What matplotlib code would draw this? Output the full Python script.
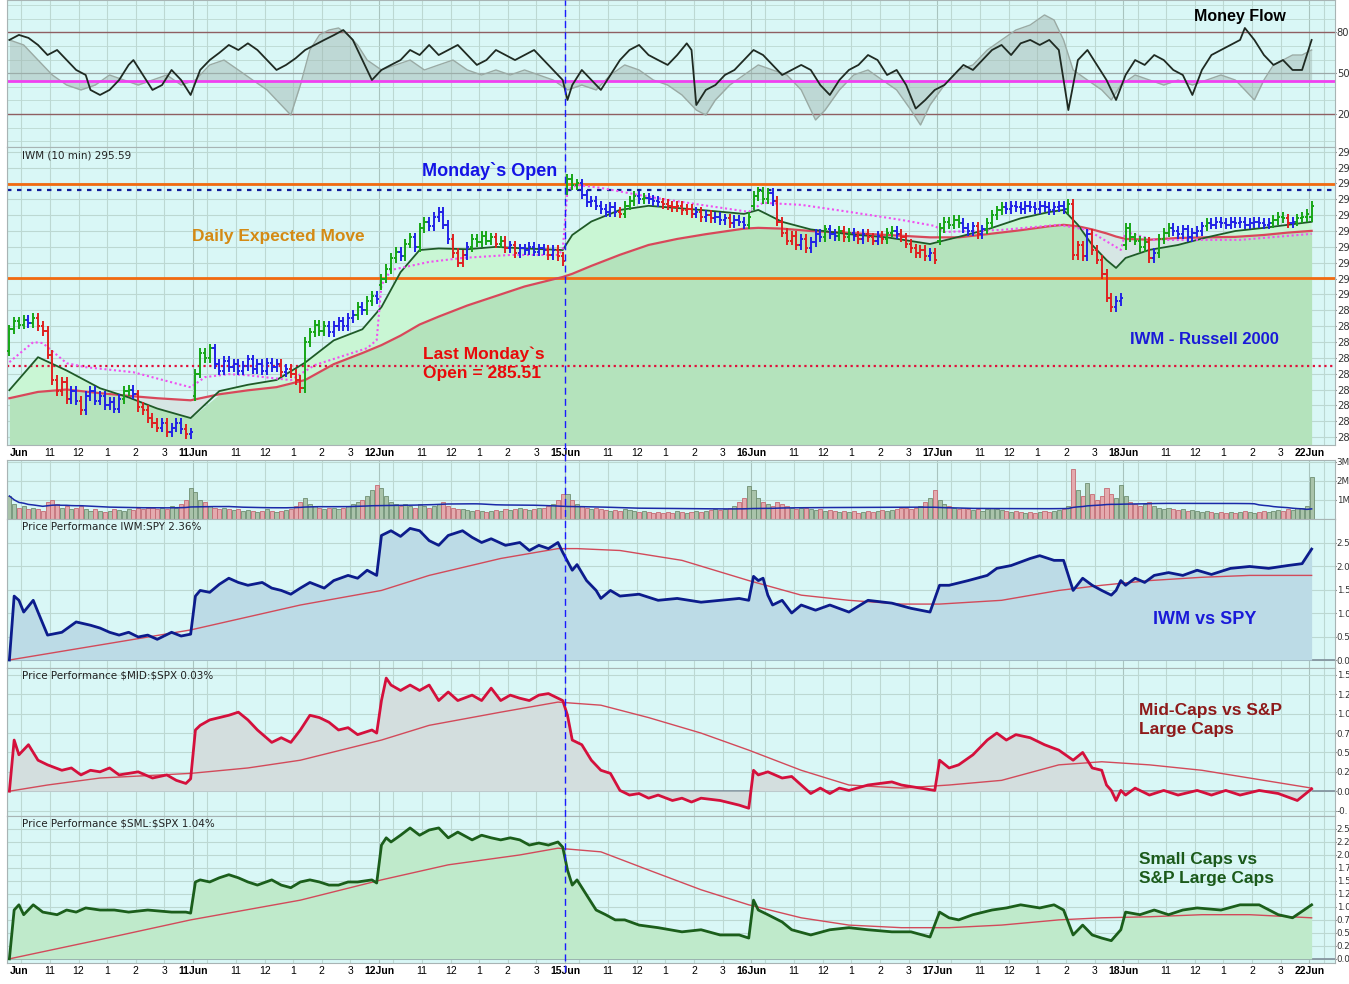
import numpy as np
import pandas as pd
import matplotlib
matplotlib.use("Agg")
import matplotlib.pyplot as plt
from matplotlib.lines import Line2D

W, H = 1349, 984
BG = '#d9f7f6'
GRID = '#bcd8d2'

# ---------------- data ----------------
days = ['Jun', '11Jun', '12Jun', '15Jun', '16Jun', '17Jun', '18Jun', '22Jun']
hours = ['11', '12', '1', '2', '3']

day_opens = [286.4, 283.6, 290.6, 296.6, 295.6, 293.4, 293.1, 294.9]
c_10jun = [287.8, 288.3, 288.1, 288.4, 288.2, 288.5, 288.0, 287.7, 286.2, 284.6,
           283.9, 284.5, 283.4, 283.9, 283.3, 282.7, 283.6, 283.9, 283.3, 283.6,
           283.0, 283.2, 282.8, 283.4, 283.9, 284.0, 283.7, 282.9, 282.7, 282.2,
           281.9, 281.6, 281.9, 281.3, 281.6, 281.9, 281.5, 281.2, 281.3]
c_11jun = [285.0, 286.3, 286.0, 286.6, 285.6, 285.2, 285.8, 285.4, 285.6, 285.2,
           285.5, 285.9, 285.3, 285.6, 285.2, 285.7, 285.4, 285.6, 285.1, 285.3,
           285.0, 284.6, 284.1, 287.0, 287.6, 288.1, 287.7, 288.0, 287.6, 288.0,
           288.3, 288.0, 288.5, 288.7, 289.2, 289.0, 289.6, 289.9, 289.7]
c_12jun = [291.0, 291.6, 292.3, 292.7, 292.4, 293.2, 293.6, 293.0, 294.2, 294.6,
           294.3, 294.9, 295.2, 294.4, 293.5, 292.6, 292.0, 292.5, 293.0, 293.5,
           293.3, 293.7, 293.4, 293.6, 293.2, 293.4, 292.9, 293.1, 292.6, 292.9,
           292.8, 293.0, 292.7, 292.9, 292.8, 292.5, 292.8, 292.4, 292.1]
c_15jun = [297.3, 296.9, 297.0, 296.3, 295.8, 295.9, 295.6, 295.4, 295.2, 295.5,
           295.2, 295.1, 295.6, 295.9, 296.2, 296.0, 296.1, 296.0, 295.9, 295.8,
           295.7, 295.6, 295.5, 295.6, 295.3, 295.4, 295.1, 295.2, 294.9, 295.0,
           294.8, 294.9, 294.7, 294.8, 294.5, 294.7, 294.6, 294.4, 294.9]
c_16jun = [296.2, 296.5, 296.0, 296.4, 295.9, 294.6, 293.9, 293.4, 293.7, 293.1,
           293.5, 292.9, 293.3, 293.8, 293.6, 294.1, 293.8, 293.7, 294.0, 293.6,
           293.9, 293.7, 293.5, 293.8, 293.6, 293.4, 293.7, 293.5, 293.9, 294.0,
           293.8, 293.6, 293.2, 292.9, 292.6, 292.8, 292.4, 292.6, 292.2]
c_17jun = [294.2, 294.6, 294.4, 294.7, 294.5, 294.2, 294.0, 294.3, 293.8, 294.1,
           294.5, 295.0, 295.3, 295.5, 295.4, 295.6, 295.5, 295.4, 295.6, 295.5,
           295.4, 295.6, 295.5, 295.3, 295.5, 295.6, 295.4, 295.7, 292.5, 293.1,
           292.4, 293.8, 292.8, 292.2, 291.3, 289.8, 289.2, 289.6, 289.8]
c_18jun = [294.2, 293.6, 293.4, 293.0, 293.3, 292.3, 292.6, 293.5, 293.9, 294.2,
           294.0, 293.8, 294.1, 293.6, 293.9, 294.0, 294.3, 294.5, 294.4, 294.6,
           294.5, 294.4, 294.6, 294.5, 294.6, 294.4, 294.5, 294.6, 294.5, 294.4,
           294.5, 294.7, 294.9, 294.8, 294.5, 294.6, 294.8, 294.9, 295.1]
c_22jun = [295.59]

v_10jun = [1.2, 0.8, 0.6, 0.7, 0.5, 0.6, 0.5, 0.4, 0.9, 1.0, 0.8, 0.6, 0.7, 0.5, 0.6, 0.7, 0.5, 0.4, 0.5, 0.4,
           0.35, 0.4, 0.5, 0.45, 0.4, 0.5, 0.45, 0.6, 0.5, 0.6, 0.55, 0.5, 0.6, 0.5, 0.7, 0.6, 0.8, 1.0, 1.6]
v_11jun = [1.4, 1.0, 0.9, 0.7, 0.6, 0.5, 0.6, 0.5, 0.45, 0.5, 0.4, 0.45, 0.4, 0.35, 0.4, 0.5, 0.4, 0.35, 0.4, 0.45,
           0.5, 0.7, 0.9, 1.1, 0.8, 0.7, 0.6, 0.5, 0.55, 0.6, 0.5, 0.6, 0.7, 0.8, 0.9, 1.0, 1.2, 1.5, 1.8]
v_12jun = [1.6, 1.2, 0.9, 0.8, 0.7, 0.8, 0.7, 0.6, 0.8, 0.7, 0.6, 0.7, 0.8, 0.9, 0.7, 0.6, 0.5, 0.5, 0.45, 0.4,
           0.45, 0.4, 0.35, 0.4, 0.45, 0.4, 0.5, 0.45, 0.5, 0.55, 0.5, 0.45, 0.5, 0.6, 0.55, 0.7, 0.8, 1.0, 1.3]
v_15jun = [1.3, 1.0, 0.8, 0.7, 0.6, 0.5, 0.55, 0.5, 0.45, 0.4, 0.45, 0.4, 0.5, 0.45, 0.4, 0.35, 0.4, 0.35, 0.3, 0.35,
           0.3, 0.35, 0.3, 0.4, 0.35, 0.3, 0.35, 0.4, 0.35, 0.4, 0.45, 0.5, 0.45, 0.5, 0.6, 0.7, 0.9, 1.1, 1.7]
v_16jun = [1.5, 1.1, 0.9, 0.8, 0.7, 0.9, 0.8, 0.7, 0.6, 0.5, 0.55, 0.6, 0.5, 0.45, 0.5, 0.4, 0.45, 0.4, 0.35, 0.4,
           0.35, 0.4, 0.3, 0.35, 0.4, 0.35, 0.4, 0.45, 0.4, 0.45, 0.5, 0.55, 0.6, 0.5, 0.6, 0.7, 0.9, 1.1, 1.5]
v_17jun = [1.0, 0.8, 0.7, 0.6, 0.5, 0.55, 0.5, 0.45, 0.5, 0.4, 0.5, 0.6, 0.5, 0.45, 0.4, 0.35, 0.4, 0.35, 0.3, 0.35,
           0.3, 0.35, 0.4, 0.35, 0.4, 0.45, 0.5, 0.7, 2.6, 1.5, 1.2, 1.9, 1.3, 1.0, 1.2, 1.6, 1.3, 1.1, 1.8]
v_18jun = [1.2, 0.9, 0.8, 0.7, 0.8, 0.9, 0.7, 0.6, 0.5, 0.55, 0.5, 0.45, 0.5, 0.4, 0.45, 0.4, 0.35, 0.4, 0.35, 0.3,
           0.35, 0.3, 0.35, 0.3, 0.35, 0.4, 0.35, 0.3, 0.35, 0.4, 0.35, 0.4, 0.45, 0.4, 0.5, 0.45, 0.55, 0.6, 0.7]
v_22jun = [2.2]

# overlay averages on the price panel (bar index, price)
ma_bars = [0, 6, 12, 19, 25, 31, 38, 44, 50, 56, 62, 68, 74, 78, 82, 86, 90, 96, 102, 108, 116, 118, 122,
           128, 134, 140, 146, 154, 157, 162, 168, 176, 184, 193, 199, 205, 212, 218, 221, 224, 227, 230,
           232, 234, 239, 245, 251, 257, 263, 268, 273]
ema_fast = [283.96, 286.04, 285.2, 284.08, 283.5, 282.8, 282.2, 283.9, 284.3, 284.6, 285.7, 287.1, 287.8,
            289.2, 291.4, 292.8, 292.9, 292.85, 293.0, 292.9, 292.8, 293.75, 294.6, 295.33, 295.59, 295.45,
            295.3, 295.08, 295.33, 294.58, 294.1, 293.8, 293.6, 293.18, 293.63, 294.1, 294.8, 295.2, 295.33,
            294.39, 293.12, 292.17, 291.67, 292.3, 292.81, 293.12, 293.6, 294.0, 294.2, 294.39, 294.58]
sma_slow = [283.45, 283.85, 284.0, 283.77, 283.6, 283.45, 283.32, 283.7, 283.95, 284.15, 284.6, 285.6,
            286.3, 286.8, 287.4, 288.1, 288.6, 289.3, 289.9, 290.5, 291.1, 291.3, 291.8, 292.5, 293.12, 293.5,
            293.8, 294.15, 294.2, 294.15, 294.0, 293.88, 293.75, 293.6, 293.6, 293.8, 294.05, 294.3, 294.39,
            294.3, 294.1, 293.85, 293.65, 293.5, 293.45, 293.56, 293.6, 293.63, 293.75, 293.9, 294.01]
pink_bars = [0, 5, 7, 12, 16, 26, 38, 41, 46, 50, 59, 64, 75, 77, 78, 80, 88, 95, 105, 115, 116, 117, 119,
             124, 134, 145, 155, 158, 166, 176, 187, 194, 196, 208, 220, 226, 233, 234, 240, 258, 273]
pink_line = [285.73, 286.99, 286.93, 285.66, 285.41, 285.09, 284.14, 284.78, 284.97, 284.9, 284.59, 285.54,
             286.61, 287.12, 290.59, 291.54, 292.05, 292.3, 292.49, 292.49, 292.81, 296.6, 296.91, 296.72,
             296.16, 295.65, 295.21, 295.78, 295.65, 295.21, 294.7, 294.32, 293.94, 294.07, 294.39, 294.07,
             292.81, 293.94, 293.44, 293.44, 293.82]

upper_move, lower_move = 296.95, 291.05
monday_open, last_monday_open = 296.6, 285.51

# money flow (bar index, value)
mf_bars = [0, 2, 4, 6, 8, 10, 12, 14, 16, 17, 19, 21, 23, 25, 26, 28, 30, 32, 34, 36, 38, 40, 42, 44, 46,
           48, 50, 52, 54, 56, 58, 60, 62, 64, 66, 68, 70, 72, 74, 76, 78, 80, 82, 84, 86, 88, 90, 92, 94,
           96, 98, 100, 102, 104, 106, 108, 110, 112, 114, 116, 117, 118, 120, 122, 124, 126, 128, 130, 132,
           134, 136, 138, 140, 142, 143, 144, 146, 148, 150, 152, 154, 156, 158, 160, 162, 164, 166, 168,
           170, 172, 174, 176, 178, 180, 182, 184, 186, 188, 190, 192, 194, 196, 198, 200, 202, 204, 206,
           208, 210, 212, 214, 216, 218, 220, 222, 224, 226, 228, 230, 232, 234, 236, 238, 240, 242, 244,
           246, 248, 250, 252, 254, 256, 258, 259, 261, 263, 265, 267, 269, 271, 272, 273]
mf_line = [74.5, 78.2, 76.0, 70.8, 63.4, 67.1, 59.7, 52.4, 48.7, 37.7, 34.0, 37.7, 45.0, 56.1, 59.7, 48.7,
           37.7, 41.3, 52.4, 45.0, 34.0, 52.4, 59.7, 65.0, 70.8, 67.1, 72.0, 67.1, 59.7, 52.4, 56.1, 61.0,
           67.1, 70.8, 74.5, 78.0, 81.8, 74.5, 59.7, 45.0, 52.4, 56.1, 59.7, 67.1, 63.4, 70.8, 63.4, 67.1,
           70.8, 63.4, 56.1, 59.7, 67.1, 63.4, 59.7, 63.4, 67.1, 59.7, 52.4, 45.0, 30.3, 41.3, 52.4, 45.0,
           37.7, 48.7, 59.7, 67.1, 70.8, 63.4, 59.7, 56.1, 63.4, 72.0, 67.1, 26.6, 37.7, 41.3, 48.7, 52.4,
           59.7, 67.1, 63.4, 56.1, 48.7, 52.4, 56.1, 52.4, 41.3, 34.0, 45.0, 52.4, 56.1, 63.4, 59.7, 48.7,
           52.4, 41.3, 24.0, 30.3, 37.7, 41.3, 48.7, 56.1, 52.4, 59.7, 67.1, 70.8, 63.4, 72.0, 74.5, 70.8,
           74.5, 67.1, 22.9, 59.7, 67.1, 56.1, 45.0, 30.3, 48.7, 59.7, 56.1, 63.4, 59.7, 52.4, 48.7, 34.0,
           52.4, 63.4, 67.1, 70.8, 74.5, 83.3, 74.5, 63.4, 56.1, 59.7, 52.4, 52.4, 63.4, 74.5]
mf2_bars = [0, 3, 6, 9, 12, 15, 18, 21, 24, 27, 30, 33, 36, 39, 42, 45, 48, 51, 54, 57, 59, 61, 63, 65, 67,
            69, 71, 73, 75, 78, 81, 84, 87, 90, 93, 96, 99, 102, 105, 108, 111, 114, 117, 120, 123, 126, 129,
            132, 135, 138, 141, 144, 146, 148, 151, 154, 157, 160, 163, 166, 169, 171, 174, 177, 180, 183,
            186, 189, 191, 193, 196, 199, 202, 205, 208, 211, 214, 217, 219, 221, 223, 226, 229, 231, 233,
            236, 239, 242, 245, 248, 251, 254, 257, 259, 261, 263, 265, 267, 269, 271, 273]
mf2_line = [74.5, 70.8, 59.7, 48.7, 41.3, 37.7, 41.3, 48.7, 45.0, 41.3, 45.0, 48.7, 41.3, 45.0, 56.1, 59.7,
            52.4, 45.0, 37.7, 26.6, 19.2, 41.3, 67.1, 78.2, 81.8, 83.3, 78.2, 70.8, 59.7, 52.4, 56.1, 59.7,
            52.4, 56.1, 59.7, 52.4, 48.7, 52.4, 48.7, 52.4, 48.7, 45.0, 37.7, 41.3, 37.7, 48.7, 56.1, 52.4,
            45.0, 41.3, 34.0, 22.9, 19.2, 30.3, 41.3, 48.7, 56.1, 52.4, 48.7, 37.7, 15.6, 22.9, 37.7, 48.7,
            52.4, 45.0, 37.7, 22.9, 11.9, 26.6, 41.3, 52.4, 56.1, 67.1, 74.5, 81.8, 85.5, 92.9, 89.2, 74.5,
            52.4, 45.0, 37.7, 30.3, 41.3, 48.7, 45.0, 41.3, 45.0, 41.3, 45.0, 48.7, 45.0, 37.7, 30.3, 45.0,
            56.1, 59.7, 63.4, 63.4, 67.1]
mf_signal = 44.0

# price performance panels (bar index, %)
iwm_bars = [0, 1, 2, 3, 5, 6, 8, 11, 14, 17, 19, 21, 23, 25, 27, 29, 31, 34, 36, 38, 39, 40, 42, 44, 46,
            48, 50, 53, 55, 57, 59, 61, 63, 66, 68, 71, 73, 75, 77, 78, 80, 82, 84, 86, 88, 90, 92, 95, 97,
            99, 101, 104, 107, 109, 111, 113, 115, 116, 117, 118, 119, 121, 123, 124, 126, 128, 132, 136, 140,
            145, 149, 153, 155, 156, 157, 158, 159, 160, 162, 164, 166, 169, 172, 176, 180, 185, 189, 193,
            195, 197, 201, 205, 207, 210, 214, 216, 219, 221, 223, 225, 227, 229, 231, 232, 233, 234, 236,
            238, 240, 243, 246, 249, 252, 256, 260, 264, 268, 271, 273]
iwm_spy = [0.0, 1.36, 1.27, 1.02, 1.27, 1.02, 0.53, 0.59, 0.81, 0.74, 0.68, 0.59, 0.53, 0.59, 0.49, 0.53,
           0.44, 0.59, 0.51, 0.55, 1.36, 1.48, 1.44, 1.61, 1.74, 1.65, 1.59, 1.65, 1.53, 1.48, 1.40, 1.53,
           1.65, 1.53, 1.69, 1.80, 1.74, 1.91, 1.80, 2.65, 2.75, 2.63, 2.80, 2.75, 2.54, 2.44, 2.65, 2.75,
           2.61, 2.50, 2.58, 2.44, 2.50, 2.33, 2.44, 2.37, 2.50, 2.29, 2.10, 1.91, 2.03, 1.69, 1.48, 1.31,
           1.48, 1.36, 1.40, 1.27, 1.31, 1.23, 1.27, 1.31, 1.27, 1.78, 1.69, 1.74, 1.38, 1.17, 1.27, 1.00,
           1.17, 1.06, 1.17, 1.02, 1.27, 1.21, 1.10, 1.02, 1.59, 1.59, 1.69, 1.80, 1.95, 2.01, 2.16, 2.22,
           2.12, 2.12, 1.48, 1.74, 1.59, 1.48, 1.38, 1.48, 1.69, 1.59, 1.74, 1.65, 1.80, 1.86, 1.80, 1.91,
           1.82, 1.95, 1.99, 1.95, 2.01, 2.05, 2.36]
iwm_ma_bars = [0, 19, 38, 61, 78, 88, 103, 115, 119, 128, 141, 155, 166, 176, 187, 195, 208, 220, 229, 239,
               250, 260, 273]
iwm_ma = [0.0, 0.32, 0.64, 1.17, 1.48, 1.80, 2.16, 2.37, 2.37, 2.33, 2.12, 1.69, 1.38, 1.27, 1.19, 1.19,
          1.27, 1.48, 1.59, 1.69, 1.76, 1.80, 1.80]

mid_bars = [0, 1, 2, 4, 6, 8, 11, 13, 15, 17, 19, 21, 23, 25, 27, 30, 33, 35, 37, 38, 39, 40, 42, 44, 46,
            48, 50, 52, 55, 57, 59, 61, 63, 65, 67, 69, 71, 73, 76, 77, 78, 79, 80, 82, 84, 86, 88, 90, 92,
            94, 97, 99, 101, 103, 105, 107, 109, 111, 113, 116, 117, 118, 120, 122, 124, 126, 128, 130, 132,
            134, 136, 139, 141, 143, 145, 149, 153, 155, 156, 157, 159, 162, 164, 166, 168, 170, 172, 174,
            176, 180, 185, 187, 191, 194, 195, 197, 199, 202, 205, 207, 209, 211, 214, 217, 220, 223, 225,
            227, 229, 230, 231, 232, 233, 234, 236, 239, 242, 245, 249, 252, 255, 258, 262, 266, 270, 273]
mid_spx = [0.0, 0.66, 0.47, 0.60, 0.40, 0.34, 0.27, 0.30, 0.21, 0.27, 0.25, 0.30, 0.21, 0.23, 0.25, 0.17,
           0.21, 0.14, 0.10, 0.16, 0.79, 0.85, 0.92, 0.95, 0.98, 1.02, 0.92, 0.79, 0.63, 0.69, 0.63, 0.79,
           0.98, 0.95, 0.89, 0.79, 0.82, 0.73, 0.79, 0.75, 1.17, 1.46, 1.37, 1.30, 1.37, 1.30, 1.37, 1.17,
           1.28, 1.17, 1.24, 1.17, 1.33, 1.17, 1.24, 1.20, 1.17, 1.24, 1.26, 1.17, 0.98, 0.66, 0.60, 0.40,
           0.27, 0.23, 0.01, -0.05, -0.03, -0.09, -0.05, -0.12, -0.09, -0.14, -0.09, -0.12, -0.18, -0.22,
           0.27, 0.21, 0.25, 0.17, 0.19, 0.08, -0.03, 0.04, -0.03, 0.04, 0.01, 0.08, 0.12, 0.08, 0.04, 0.01,
           0.40, 0.30, 0.34, 0.47, 0.66, 0.75, 0.66, 0.73, 0.69, 0.60, 0.53, 0.40, 0.50, 0.30, 0.27, 0.08,
           0.01, -0.12, 0.01, -0.05, 0.04, -0.05, 0.01, -0.05, 0.01, -0.05, 0.01, -0.05, 0.01, -0.03, -0.12,
           0.03]
mid_ma_bars = [0, 8, 19, 38, 50, 61, 78, 88, 103, 115, 124, 134, 145, 155, 166, 176, 187, 197, 208, 220,
               229, 239, 250, 260, 273]
mid_ma = [0.0, 0.08, 0.17, 0.23, 0.30, 0.40, 0.66, 0.85, 1.02, 1.15, 1.11, 0.95, 0.75, 0.53, 0.27, 0.08,
          0.04, 0.08, 0.14, 0.34, 0.38, 0.34, 0.27, 0.17, 0.04]

sml_bars = [0, 1, 2, 3, 5, 7, 10, 12, 14, 16, 19, 22, 25, 29, 34, 37, 38, 39, 40, 42, 44, 46, 48, 50, 52,
            55, 57, 59, 61, 63, 65, 67, 69, 71, 73, 76, 77, 78, 79, 80, 82, 84, 86, 88, 90, 92, 94, 97, 99,
            101, 103, 105, 107, 109, 111, 113, 115, 116, 117, 118, 119, 121, 123, 125, 127, 129, 132, 136,
            141, 145, 149, 153, 155, 156, 157, 159, 162, 164, 168, 172, 176, 180, 185, 189, 193, 195, 197,
            199, 202, 206, 209, 212, 216, 219, 221, 223, 225, 227, 229, 231, 233, 234, 237, 240, 243, 246,
            249, 254, 258, 262, 266, 269, 273]
sml_spx = [0.0, 0.94, 1.04, 0.85, 1.04, 0.90, 0.85, 0.94, 0.90, 0.98, 0.94, 0.94, 0.90, 0.94, 0.90, 0.90,
           0.88, 1.48, 1.52, 1.48, 1.56, 1.62, 1.56, 1.48, 1.42, 1.52, 1.42, 1.37, 1.48, 1.52, 1.48, 1.42,
           1.42, 1.48, 1.48, 1.52, 1.46, 2.19, 2.33, 2.25, 2.38, 2.52, 2.38, 2.48, 2.52, 2.33, 2.44, 2.29,
           2.38, 2.33, 2.29, 2.33, 2.29, 2.19, 2.23, 2.19, 2.25, 2.15, 1.71, 1.42, 1.52, 1.23, 0.94, 0.85,
           0.75, 0.75, 0.65, 0.60, 0.52, 0.56, 0.46, 0.46, 0.40, 1.13, 0.94, 0.85, 0.71, 0.56, 0.46, 0.56,
           0.60, 0.56, 0.52, 0.52, 0.42, 0.90, 0.79, 0.75, 0.85, 0.94, 0.98, 1.04, 0.98, 1.04, 0.94, 0.46,
           0.65, 0.46, 0.40, 0.35, 0.56, 0.90, 0.85, 0.94, 0.85, 0.94, 0.98, 0.94, 1.04, 1.04, 0.85, 0.79,
           1.04]
sml_ma_bars = [0, 19, 38, 61, 78, 92, 107, 115, 124, 134, 145, 155, 166, 176, 187, 197, 208, 220, 229, 239,
               250, 260, 273]
sml_ma = [0.0, 0.37, 0.75, 1.13, 1.52, 1.81, 2.00, 2.13, 2.06, 1.71, 1.33, 1.04, 0.79, 0.65, 0.60, 0.60,
          0.65, 0.75, 0.79, 0.81, 0.85, 0.85, 0.79]

# right-hand axis labels as they show in the narrow margin
price_ticks = list(range(281, 300))
price_labels = ['29' if p >= 290 else '28' for p in price_ticks]
mf_ticks, mf_labels = [20, 50, 80], ['20', '50', '80']
vol_ticks, vol_labels = [1, 2, 3], ['1M', '2M', '3M']
iwm_ticks = [0, 0.5, 1.0, 1.5, 2.0, 2.5]
iwm_labels = ['0.0', '0.5', '1.0', '1.5', '2.0', '2.5']
mid_ticks = [-0.25, 0, 0.25, 0.5, 0.75, 1.0, 1.25, 1.5]
mid_labels = ['-0.', '0.0', '0.2', '0.5', '0.7', '1.0', '1.2', '1.5']
sml_ticks = [0, 0.25, 0.5, 0.75, 1.0, 1.25, 1.5, 1.75, 2.0, 2.25, 2.5]
sml_labels = ['0.0', '0.2', '0.5', '0.7', '1.0', '1.2', '1.5', '1.7', '2.0', '2.2', '2.5']

# ---------------- build series ----------------
day_closes = [c_10jun, c_11jun, c_12jun, c_15jun, c_16jun, c_17jun, c_18jun, c_22jun]
day_vols = [v_10jun, v_11jun, v_12jun, v_15jun, v_16jun, v_17jun, v_18jun, v_22jun]
close = np.array(sum(day_closes, []))
vol = np.array(sum(day_vols, []))
opn = []
for d, cl in enumerate(day_closes):
    opn.append(day_opens[d])
    opn.extend(cl[:-1])
opn = np.array(opn)
n = len(close)
xb = np.arange(n)
hi = np.maximum(opn, close) + 0.3
lo = np.minimum(opn, close) - 0.3

# Elder impulse colouring
s = pd.Series(close)
ema13 = s.ewm(span=13, adjust=False).mean()
macd = s.ewm(span=12, adjust=False).mean() - s.ewm(span=26, adjust=False).mean()
hist = macd - macd.ewm(span=9, adjust=False).mean()
up = (ema13.diff() > 0) & (hist.diff() > 0)
dn = (ema13.diff() < 0) & (hist.diff() < 0)
bar_col = np.where(up, '#16a616', np.where(dn, '#e02020', '#2222e6'))
bar_col[0] = '#16a616'

# ---------------- figure ----------------
fig = plt.figure(figsize=(W / 100, H / 100), dpi=100)
fig.patch.set_facecolor('white')
XMAX = 277.9
day_len = 39


def panel(top, bottom, lsize=7.2):
    ax = fig.add_axes([7 / W, 1 - bottom / H, 1328 / W, (bottom - top) / H])
    ax.set_facecolor(BG)
    ax.set_xlim(-0.5, XMAX)
    ax.set_xticks([])
    for sp in ax.spines.values():
        sp.set_color('#a8b4b4')
        sp.set_linewidth(0.8)
    ax.yaxis.tick_right()
    ax.tick_params(axis='y', labelsize=lsize, length=1, pad=0.3, colors='#333333')
    for d in range(8):
        b = d * day_len - 0.5
        for off, c in [(0, '#a9c4bf'), (3, GRID), (9, GRID), (15, GRID), (21, GRID), (27, GRID), (33, GRID)]:
            if b + off < XMAX:
                ax.axvline(b + off, color=c, lw=0.8, zorder=0)
    return ax


def set_y(ax, ticks, labels):
    for v in ticks:
        ax.axhline(v, color=GRID, lw=0.8, zorder=0)
    ax.set_yticks(ticks)
    ax.set_yticklabels(labels)


def time_labels(ax):
    for d in range(8):
        b = d * day_len - 0.5
        ax.annotate(days[d], (b, 0), xycoords=('data', 'axes fraction'), xytext=(2 if d == 0 else 0, -2),
                    textcoords='offset points', ha='left' if d == 0 else 'center', va='top', fontsize=7.5,
                    fontweight='bold', family='Liberation Sans', color='black')
        for k, off in enumerate([9, 15, 21, 27, 33]):
            if b + off < XMAX - 2:
                ax.annotate(hours[k], (b + off, 0), xycoords=('data', 'axes fraction'), xytext=(0, -2),
                            textcoords='offset points', ha='center', va='top', fontsize=7.5,
                            family='Liberation Sans', color='black')


def ftext(x, y, s, **kw):
    fig.text(x / W, 1 - y / H, s, **kw)


# ---- money flow ----
ax0 = panel(0, 147)
ax0.set_ylim(-4.3, 103.9)
for v in [0, 10, 30, 40, 60, 70, 90, 100]:
    ax0.axhline(v, color=GRID, lw=0.6, zorder=0)
ax0.set_yticks(mf_ticks)
ax0.set_yticklabels(mf_labels)
ax0.axhline(50, color='#9aa8a8', lw=0.9, zorder=0)
ax0.axhline(80, color='#8e5f62', lw=1.0)
ax0.axhline(20, color='#8e5f62', lw=1.0)
ax0.fill_between(mf2_bars, mf2_line, mf_signal, color='#9fb4ad', alpha=0.45, lw=0)
ax0.plot(mf2_bars, mf2_line, color='#9aaaa4', lw=1.0)
ax0.axhline(mf_signal, color='#f040f0', lw=2)
ax0.plot(mf_bars, mf_line, color='#1f2a22', lw=1.3)
ftext(1240, 16, 'Money Flow', fontsize=11.5, fontweight='bold', family='Liberation Sans',
      ha='center', va='center', color='black')

# ---- price panel ----
ax1 = panel(147, 445)
ax1.set_ylim(280.5, 299.3)
set_y(ax1, price_ticks, price_labels)
ema_a = np.array(ema_fast)
sma_a = np.array(sma_slow)
low_env = np.minimum(ema_a, sma_a)
ax1.fill_between(ma_bars, 280.5, low_env, color='#b4e3bc', lw=0, zorder=1)
ax1.fill_between(ma_bars, sma_a, ema_a, where=ema_a >= sma_a, interpolate=True, color='#c9f6d4', lw=0, zorder=1)
ax1.fill_between(ma_bars, sma_a, ema_a, where=ema_a < sma_a, interpolate=True, color='#d6e6e4', lw=0, zorder=1)
ax1.plot(ma_bars, sma_slow, color='#d8485a', lw=1.6, zorder=3)
ax1.plot(ma_bars, ema_fast, color='#1f5a28', lw=1.3, zorder=3)
ax1.plot(pink_bars, pink_line, color='#f050f0', lw=1.5, ls=(0, (1, 1.3)), zorder=3)
ax1.axhline(upper_move, color='#f26a10', lw=2, zorder=2)
ax1.axhline(lower_move, color='#f26a10', lw=2, zorder=2)
ax1.axhline(monday_open, color='#101a9a', lw=1.6, ls=(0, (2, 2.5)), zorder=2)
ax1.axhline(last_monday_open, color='#e0103a', lw=1.6, ls=(0, (1, 1.6)), zorder=2)
ax1.vlines(xb, lo, hi, colors=bar_col, lw=1.4, zorder=4)
ax1.hlines(opn, xb - 0.45, xb, colors=bar_col, lw=1.4, zorder=4)
ax1.hlines(close, xb, xb + 0.45, colors=bar_col, lw=1.4, zorder=4)
time_labels(ax1)
ftext(22, 155, 'IWM (10 min) 295.59', fontsize=7.5, family='DejaVu Sans', va='center', color='#222222')
ftext(490, 171, 'Monday`s Open', fontsize=13, fontweight='bold', family='Liberation Sans',
      ha='center', va='center', color='#1414e6')
ftext(278, 236, 'Daily Expected Move', fontsize=12.5, fontweight='bold', family='Liberation Sans',
      ha='center', va='center', color='#d48a14')
ftext(423, 364, 'Last Monday`s\nOpen = 285.51', fontsize=12.5, fontweight='bold', family='Liberation Sans',
      ha='left', va='center', color='#e80a0a', linespacing=1.3)
ftext(1204, 340, 'IWM - Russell 2000', fontsize=12, fontweight='bold', family='Liberation Sans',
      ha='center', va='center', color='#1a1ad8')

# ---- volume ----
ax2 = panel(460, 519, 6.3)
ax2.set_ylim(0, 3.08)
set_y(ax2, vol_ticks, vol_labels)
vcol = np.where(close >= opn, '#a9c3aa', '#e4aaae')
ecol = np.where(close >= opn, '#6f8f72', '#c46b74')
ax2.bar(xb, vol, width=0.85, color=vcol, edgecolor=ecol, lw=0.6, zorder=2)
vol_avg = pd.Series(vol).rolling(39, min_periods=1).mean()
ax2.plot(xb, vol_avg, color='#1a2aa8', lw=1.1, zorder=3)


# ---- performance panels ----
def perf(top, bottom, bx, vals, mbx, mvals, col, fill, ylim, ticks, labels, title):
    ax = panel(top, bottom, 6.3)
    ax.set_ylim(*ylim)
    set_y(ax, ticks, labels)
    ax.axhline(0, color='#7f8e9a', lw=1.2, zorder=1)
    ax.fill_between(bx, 0, vals, color=fill, lw=0, zorder=1)
    ax.plot(mbx, mvals, color='#d24a5a', lw=1.0, zorder=2)
    ax.plot(bx, vals, color=col, lw=2.0, zorder=3)
    ftext(22, top + 8, title, fontsize=7.5, family='DejaVu Sans', va='center', color='#222222')
    return ax


ax3 = perf(519, 668, iwm_bars, iwm_spy, iwm_ma_bars, iwm_ma, '#0c1c8c', '#bcdbe6',
           (-0.17, 3.0), iwm_ticks, iwm_labels, 'Price Performance IWM:SPY 2.36%')
ftext(1205, 620, 'IWM vs SPY', fontsize=13, fontweight='bold', family='Liberation Sans',
      ha='center', va='center', color='#1a1ad8')
ax4 = perf(668, 816, mid_bars, mid_spx, mid_ma_bars, mid_ma, '#d4103c', '#d3dede',
           (-0.32, 1.59), mid_ticks, mid_labels, 'Price Performance \\$MID:\\$SPX 0.03%')
ftext(1139, 720, 'Mid-Caps vs S&P\nLarge Caps', fontsize=12.5, fontweight='bold', family='Liberation Sans',
      ha='left', va='center', color='#8e1a1a', linespacing=1.35)
ax5 = perf(816, 963, sml_bars, sml_spx, sml_ma_bars, sml_ma, '#1b5e1b', '#bfeacb',
           (-0.08, 2.75), sml_ticks, sml_labels, 'Price Performance \\$SML:\\$SPX 1.04%')
ftext(1139, 869, 'Small Caps vs\nS&P Large Caps', fontsize=12.5, fontweight='bold', family='Liberation Sans',
      ha='left', va='center', color='#1b5a1b', linespacing=1.35)
time_labels(ax5)

# blue dashed marker at Monday's open across all panels
xpix = ax1.transData.transform((3 * day_len - 0.5, 290))[0]
fig.add_artist(Line2D([xpix / W, xpix / W], [1 - 972 / H, 1.0], transform=fig.transFigure,
                      color='#1a1aff', lw=1.0, ls=(0, (5, 3)), zorder=10))

fig.savefig('out.png', dpi=100, facecolor='white')
